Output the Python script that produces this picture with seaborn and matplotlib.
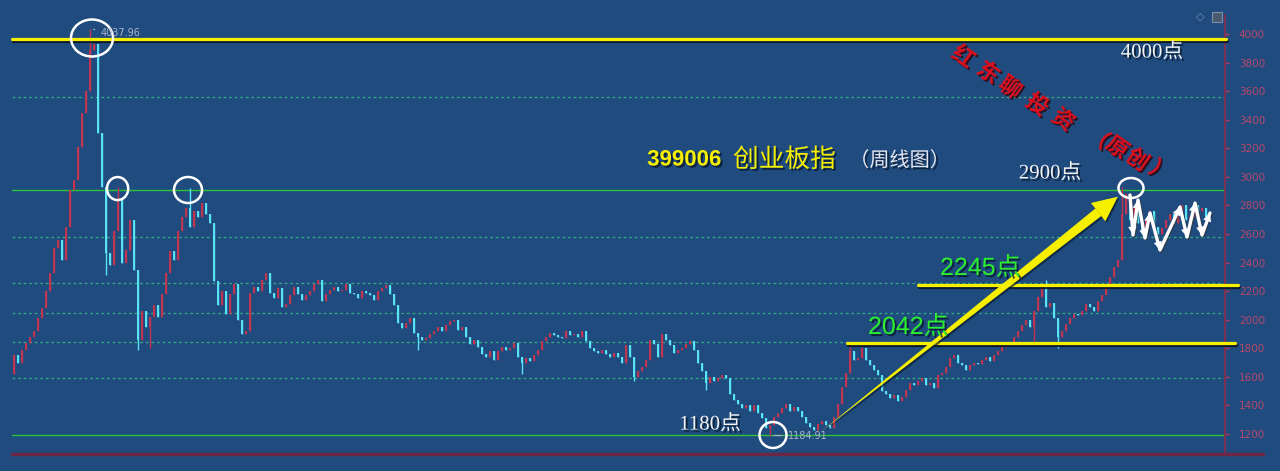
import numpy as np
import pandas as pd
import seaborn as sns
import matplotlib.pyplot as plt
import matplotlib.patheffects as pe
from matplotlib.patches import Ellipse, FancyArrowPatch, Rectangle

# weekly closes (ChiNext index, 399006)
first_open = 1620
closes = [
    # run-up to the 2015 peak
    1750, 1700, 1790, 1840, 1880, 1920, 2010, 2080, 2200, 2330,
    2500, 2560, 2420, 2650, 2910, 2980, 3210, 3450, 3600, 3890, 3930,
    # crash
    3310, 2930, 2470, 2380, 2620, 2850, 2400, 2490, 2700, 2350,
    # rebound and range
    1860, 2060, 1950, 2020, 2100, 2020, 2180, 2330, 2480, 2420,
    2620, 2720, 2780, 2650, 2760, 2720, 2820, 2740, 2680, 2270,
    2100, 2200, 2040, 2180, 2250, 2000, 1900, 1920, 2190, 2230,
    2200, 2280, 2330, 2190, 2150, 2220, 2090, 2110, 2170, 2230,
    2180, 2140, 2170, 2200, 2250, 2280,
    # slow decline 2016-2018
    2130, 2180, 2210, 2230, 2200, 2210, 2250, 2190, 2180, 2150,
    2200, 2190, 2170, 2140, 2200, 2220, 2240, 2180, 2100, 1980,
    1940, 1980, 2010, 1910, 1880, 1860, 1870, 1900, 1920, 1950,
    1920, 1960, 1990, 2000, 1930, 1950, 1880, 1830, 1860, 1810,
    1760, 1740, 1780, 1720, 1780, 1810, 1790, 1800, 1840, 1740,
    1700, 1730, 1710, 1750, 1790, 1850, 1880, 1910, 1890, 1880,
    1870, 1920, 1890, 1900, 1880, 1920, 1850, 1800, 1780, 1770,
    1790, 1760, 1740, 1770, 1740, 1700, 1820, 1740, 1600, 1640,
    1670, 1720, 1860, 1830, 1740, 1900, 1860, 1820, 1770, 1790,
    1800, 1830, 1850, 1790, 1700, 1640, 1560, 1600, 1570,
    # bottom 2018-2019
    1590, 1610, 1590, 1480, 1440, 1410, 1380, 1400, 1360, 1400,
    1350, 1310, 1240, 1260, 1320, 1350, 1380, 1410, 1360, 1390,
    1360, 1320, 1280, 1250, 1230, 1270, 1290, 1260, 1240, 1320,
    1410, 1530, 1630, 1780, 1720, 1730, 1800, 1720, 1680, 1650,
    1610, 1500, 1480, 1450, 1470, 1430, 1460, 1510, 1560, 1540,
    1570, 1590, 1540, 1560, 1520, 1610, 1630, 1670, 1730, 1750,
    1700, 1680, 1650, 1680, 1700, 1690, 1720, 1740, 1710, 1750,
    # 2020 rally
    1780, 1810, 1830, 1840, 1880, 1920, 1960, 2000, 1950, 2060,
    2160, 2230, 2090, 2120, 2010, 1880, 1920, 1970, 2010, 2040,
    2030, 2060, 2110, 2090, 2060, 2130, 2170, 2250, 2300, 2370,
    2420, 2740,
    # under the hand-drawn zigzag
    2880, 2700, 2780, 2680, 2620, 2700, 2760, 2650, 2600, 2640,
    2700, 2740, 2680, 2750, 2800, 2700, 2720, 2800, 2760, 2780, 2720,
]
# long shadows that stand out
high_idx = [19, 26, 44, 209, 258, 277]
high_vals = [4038, 2930, 2920, 1810, 2280, 2930]
low_idx = [23, 31, 34, 101, 127, 155, 173, 189, 255, 261]
low_vals = [2310, 1790, 1800, 1790, 1620, 1570, 1510, 1185, 1835, 1800]

# horizontal reference levels
dotted_levels = [3560, 2580, 2255, 2045, 1845, 1590]
green_levels = [2908, 1193]
yellow_levels = [3965, 2243, 1838]
yellow_spans = [(0.0, 1.001), (0.747, 1.011), (0.688, 1.008)]

# hand-drawn forecast zigzag
fc_x = [279, 279.75, 281, 282.75, 284, 286.5, 291.5, 293.25, 295.25, 297, 299]
fc_v = [2873, 2593, 2838, 2572, 2747, 2488, 2789, 2579, 2817, 2593, 2747]

# watermark, one character at a time along a diagonal
wm_chars = ['红', '东', '聊', '投', '资', '（', '原', '创', '）']
wm_x = [237.25, 243.5, 249, 255.75, 262.25, 271, 275.75, 280.75, 286.5]
wm_y = [3839, 3727, 3622, 3503, 3398, 3272, 3202, 3118, 3034]

y_ticks = list(range(1200, 4001, 200))

BG = '#1f4b7f'
RED = '#c23550'
CYAN = '#58e4f4'
YEL = '#f6f000'

sns.set_theme(style='dark')
plt.rcParams['font.family'] = ['DejaVu Sans', 'Noto Sans CJK SC']

df = pd.DataFrame({'close': closes})
df['idx'] = np.arange(len(df))
df['open'] = df['close'].shift(1).fillna(first_open)
df['high'] = df[['open', 'close']].max(axis=1)
df['low'] = df[['open', 'close']].min(axis=1)
df.loc[high_idx, 'high'] = high_vals
df.loc[low_idx, 'low'] = low_vals
df['up'] = df['close'] >= df['open']

fig = plt.figure(figsize=(12.8, 4.71), dpi=100, facecolor=BG)
ax = fig.add_axes([12 / 1280, 17 / 471, 1213 / 1280, 439 / 471])
ax.set_facecolor(BG)
ax.set_xlim(-0.5, 302.75)
ax.set_ylim(1060, 4133)

# grid levels
for lv in dotted_levels:
    ax.axhline(lv, color='#33a583', lw=1.0, ls=(0, (2, 2)), zorder=1)
for lv in green_levels:
    ax.axhline(lv, color='#2bc43c', lw=1.0, zorder=1)

# candles
cols = np.where(df['up'], RED, CYAN)
ax.vlines(df['idx'], df['low'], df['high'], colors=cols, lw=1.0, zorder=2)
body = (df['close'] - df['open']).abs().clip(lower=8)
ax.bar(df['idx'], body, bottom=df[['open', 'close']].min(axis=1),
       width=0.7, color=cols, linewidth=0, zorder=2)

# yellow levels with a dark shadow
for lv, (a, b) in zip(yellow_levels, yellow_spans):
    ax.plot([a, b], [lv, lv], transform=ax.get_yaxis_transform(), color=YEL,
            lw=2.3, clip_on=False, zorder=4,
            path_effects=[pe.SimpleLineShadow(offset=(0.8, -1.5), shadow_color='#081428', alpha=0.9),
                          pe.Normal()])

# forecast zigzag
sns.lineplot(x=fc_x, y=fc_v, sort=False, color='white', lw=2.4, ax=ax, zorder=6,
             path_effects=[pe.SimpleLineShadow(offset=(0.8, -0.8), shadow_color='#303030', alpha=0.6),
                           pe.Normal()])
for i in range(1, len(fc_x)):
    ax.annotate('', xy=(fc_x[i], fc_v[i]), xytext=(fc_x[i - 1], fc_v[i - 1]),
                arrowprops=dict(arrowstyle='-|>,head_length=0.5,head_width=0.25',
                                color='white', lw=0.01, shrinkA=0, shrinkB=0), zorder=6)

# big yellow arrow from the 2018 low to 2900
start, end = (201, 1200), (276.5, 2873)
arrow_fx = [pe.withSimplePatchShadow(offset=(1, -1.2), shadow_rgbFace='#0a1a30', alpha=0.7)]
ax.add_patch(FancyArrowPatch((274.6, 2830), start, arrowstyle='wedge,tail_width=0.6,shrink_factor=0.5',
                             mutation_scale=12, color=YEL, lw=0, zorder=5, path_effects=arrow_fx))
ax.add_patch(FancyArrowPatch((272.5, 2785), end, arrowstyle='simple,head_length=1.5,head_width=1.4,tail_width=0.6',
                             mutation_scale=12, color=YEL, lw=0, zorder=5, path_effects=arrow_fx))

# circles on the turning points
for cx, cy, w, h in [(19.5, 3972, 10.5, 259), (25.9, 2918, 5.3, 161), (43.5, 2908, 7, 182),
                     (189.75, 1193, 6.75, 182), (279.25, 2922, 6.25, 140)]:
    ax.add_patch(Ellipse((cx, cy), w, h, fill=False, ec='white', lw=1.8, zorder=7))

# peak / trough labels
ax.annotate('4037.96', xy=(19.2, 4036), xytext=(21.7, 4005), color='#aab4c8', fontsize=7,
            va='center', arrowprops=dict(arrowstyle='-', color='#aab4c8', lw=0.8), zorder=7)
ax.annotate('1184.91', xy=(189.3, 1190), xytext=(193.5, 1186), color='#aab4c8', fontsize=7,
            va='center', arrowprops=dict(arrowstyle='-', color='#aab4c8', lw=0.8), zorder=7)

shadow = [pe.withSimplePatchShadow(offset=(1.5, -1.5), shadow_rgbFace='#081830', alpha=0.8)]
serif = ['Liberation Serif', 'Noto Sans CJK SC']
for txt, x, y in [('4000点', 284.5, 3867), ('2900点', 259, 3020), ('1180点', 174, 1263)]:
    ax.text(x, y, txt, color='#f2f2f2', fontsize=15, family=serif, ha='center', va='center',
            path_effects=shadow, zorder=8)

ax.text(158.3, 3118, '399006', color=YEL, fontsize=16, weight='bold', family=['Liberation Sans'],
        va='center', path_effects=shadow, zorder=8)
ax.text(179.75, 3118, '创业板指', color=YEL, fontsize=18.5, family=['Noto Sans CJK SC'],
        va='center', path_effects=shadow, zorder=8)
ax.text(208.8, 3112, '（周线图）', color='#e4e6ee', fontsize=14.5, family=['Noto Sans CJK SC'],
        va='center', path_effects=shadow, zorder=8)

green_font = ['Liberation Sans', 'Noto Sans CJK SC']
ax.text(231.5, 2362, '2245点', color='#2cf02c', fontsize=18, family=green_font, va='center',
        path_effects=shadow, zorder=8)
ax.text(213.5, 1949, '2042点', color='#2cf02c', fontsize=18, family=green_font, va='center',
        path_effects=shadow, zorder=8)

wm_fx = [pe.withSimplePatchShadow(offset=(1.2, -1.2), shadow_rgbFace='#300008', alpha=0.8)]
for ch, x, y in zip(wm_chars, wm_x, wm_y):
    ax.text(x, y, ch, color='#d8101e', fontsize=16, weight='bold', family=['Noto Sans CJK SC'],
            rotation=-35, ha='center', va='center', zorder=8, path_effects=wm_fx)

# axes frame: right price axis in dark red
for s in ['top', 'left', 'bottom']:
    ax.spines[s].set_visible(False)
ax.spines['right'].set_color('#8e2a4a')
ax.spines['right'].set_linewidth(1.2)
ax.plot([0, 1.031], [0, 0], transform=ax.transAxes, color='#6c2646', lw=2.5, clip_on=False, zorder=3)
ax.set_xticks([])
ax.yaxis.tick_right()
ax.set_yticks(y_ticks)
ax.set_yticklabels([str(t) for t in y_ticks])
ax.tick_params(axis='y', colors='#b83a5c', labelcolor='#b8486a', length=3, width=1,
               pad=7, labelsize=7.5, right=True, left=False)
ax.grid(False)

# small toolbar icons top right
fig.text(1200 / 1280, 1 - 17 / 471, '◇', color='#7f90aa', fontsize=8, ha='center', va='center')
fig.add_artist(Rectangle((1212 / 1280, 1 - 22 / 471), 10 / 1280, 10 / 471, transform=fig.transFigure,
                         fc='#4a5a70', ec='#8090a8', lw=0.8))

fig.savefig('out.png', dpi=100, facecolor=BG)
